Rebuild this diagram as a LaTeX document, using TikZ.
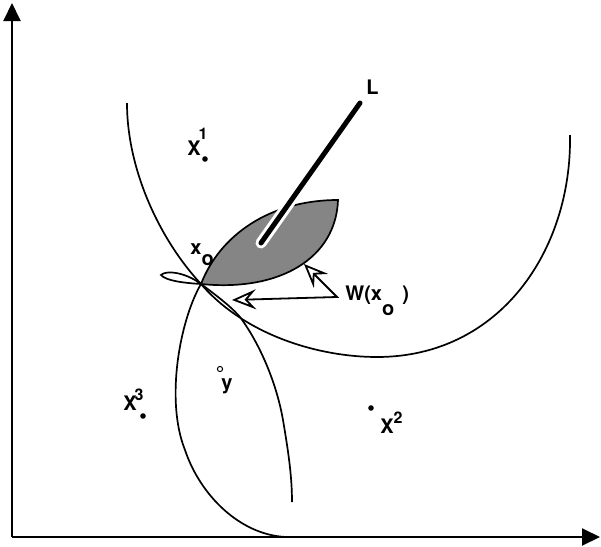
\documentclass[tikz,border=0pt]{standalone}
\usepackage{fontspec}
\setmainfont{TeX Gyre Heros}
\usetikzlibrary{arrows.meta,positioning,calc}

\begin{document}
\begin{tikzpicture}[x=0.5pt, y=-0.5pt]
        \tikzset{
            axis/.style={draw, line width=1pt, -{Triangle[length=9pt, width=8.5pt]}},
            curve/.style={draw, line width=0.85pt},
            lens/.style={draw, line width=0.85pt, fill=black!48},
            site/.style={circle, fill=black, inner sep=0pt, minimum size=2.8pt},
            probe/.style={circle, draw, line width=0.5pt, fill=white, inner sep=0pt, minimum size=2.6pt},
            lbl/.style={font=\bfseries, inner sep=0pt},
            pointer/.style={draw, line width=0.9pt, {Stealth[open, length=12pt, width=10pt, inset=4.5pt]}-{Stealth[open, length=12pt, width=10pt, inset=4.5pt]}},
            halo/.style={draw=white, line width=5.5pt, line cap=round},
            ray/.style={draw, line width=2.5pt, line cap=round}
        }
        \useasboundingbox (0,0) rectangle (601,547);

        % Axes
        \coordinate (origin) at (12,537);
        \coordinate (ytip) at (12,3);
        \coordinate (xtip) at (600,537);
        \draw [axis] (origin) -- (ytip);
        \draw [axis] (origin) -- (xtip);

        % Point x_o and the curves through it
        \coordinate (xo) at (201,284);
        \coordinate (cross) at (240,317);
        \draw [curve] (127,103) .. controls (127,170) and (160,240) .. (xo)
            .. controls (246,336) and (320,357) .. (377,357)
            .. controls (500,357) and (572,250) .. (570,135);
        \draw [curve] (xo) .. controls (180,320) and (165,400) .. (185,450)
            .. controls (200,495) and (240,535) .. (286,537);
        \draw [curve] (xo) .. controls (224,301) and (233,309) .. (cross)
            .. controls (255,337) and (275,375) .. (283,420)
            .. controls (288,450) and (292,475) .. (292,502);

        % W(x_o)
        \draw [curve] (xo) .. controls (185,272) and (166,270) .. (161,275) .. controls (166,281) and (185,283) .. (xo);
        \draw [lens] (xo) .. controls (220,235) and (270,200) .. (338,200) .. controls (336,258) and (280,292) .. (xo);

        % Line L
        \coordinate (Lbot) at (261,243);
        \coordinate (Ltop) at (360,103);
        \draw [halo] (Lbot) -- (Ltop);
        \draw [ray] (Lbot) -- (Ltop);
        \node [lbl, anchor=north west] (Ltxt) at (366,80) {L};

        % Sites
        \node [site] (x1) at (205,159) {};
        \node [site] (x2) at (371,408) {};
        \node [site] (x3) at (143,416) {};
        \node [lbl, anchor=base west] (x1txt) at (187,155) {X\kern-1pt\raisebox{8pt}{\footnotesize 1}};
        \node [lbl, anchor=base west] (x2txt) at (380,433) {X\raisebox{5pt}{\footnotesize 2}};
        \node [lbl, anchor=base west] (x3txt) at (123,410) {X\kern-1pt\raisebox{5pt}{\footnotesize 3}};
        \node [lbl, anchor=base west] (xotxt) at (190,254) {x\raisebox{-5.5pt}{o}};

        % Point y
        \node [probe] (y) at (220,369) {};
        \node [lbl, anchor=north west] (ytxt) at (221,378) {y};

        % Pointers to W(x_o)
        \coordinate (wcorner) at (337,297);
        \coordinate (wtipA) at (304,264);
        \coordinate (wtipB) at (232,300);
        \draw [pointer] (wtipA) -- (wcorner) -- (wtipB);
        \node [lbl, anchor=base west] (wtxt) at (345,300) {W(x\raisebox{-7.5pt}{o}\hspace{4pt})};
\end{tikzpicture}
\end{document}
